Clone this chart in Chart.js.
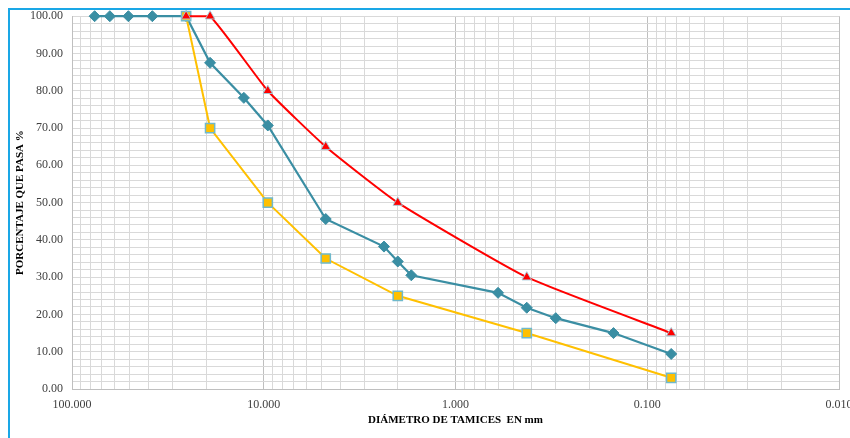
<!DOCTYPE html>
<html>
<head>
<meta charset="utf-8">
<script src="https://cdn.jsdelivr.net/npm/chart.js@4"></script>
<style>
html,body{margin:0;padding:0;background:#fff;}
#wrap{position:relative;width:850px;height:438px;}
</style>
</head>
<body>
<div id="wrap"><canvas id="c" width="850" height="438"></canvas></div>
<script>
// Sieve diameters (mm) and percent passing
const sampleDiam = [76.2, 63.5, 50.8, 38.1, 25.4, 19.05, 12.7, 9.525, 4.75, 2.36, 2.0, 1.7, 0.6, 0.425, 0.3, 0.15, 0.075];
const samplePass = [100, 100, 100, 100, 100, 87.5, 78.1, 70.7, 45.6, 38.2, 34.2, 30.5, 25.8, 21.8, 19.0, 15.0, 9.4];
const limitDiam = [25.4, 19.05, 9.525, 4.75, 2.0, 0.425, 0.075];
const upperPass = [100, 100, 80, 65, 50, 30, 15];
const lowerPass = [100, 70, 50, 35, 25, 15, 3];
const yLabelStep = 10;

const toPts = (xs, ys) => xs.map((x, i) => ({x: x, y: ys[i]}));

const frame = {
  id: 'frame',
  beforeDraw(chart) {
    const ctx = chart.ctx;
    ctx.save();
    ctx.fillStyle = '#fff';
    ctx.fillRect(0, 0, chart.width, chart.height);
    ctx.strokeStyle = '#1AA7E6';
    ctx.lineWidth = 2;
    ctx.beginPath();
    ctx.moveTo(9, chart.height + 5);
    ctx.lineTo(9, 9);
    ctx.lineTo(chart.width + 5, 9);
    ctx.stroke();
    ctx.restore();
  }
};

const isDecade = v => Math.abs(Math.log10(v) - Math.round(Math.log10(v))) < 1e-9;

new Chart(document.getElementById('c'), {
  type: 'scatter',
  data: {
    datasets: [
      {
        label: 'Límite superior',
        data: toPts(limitDiam, upperPass),
        showLine: true,
        clip: false,
        borderColor: '#FF0000',
        borderWidth: 2,
        tension: 0.15,
        pointStyle: 'triangle',
        pointRadius: 5.5,
        pointBackgroundColor: '#FF0000',
        pointBorderColor: 'rgba(160,205,220,0.9)',
        pointBorderWidth: 1
      },
      {
        label: 'Límite inferior',
        data: toPts(limitDiam, lowerPass),
        showLine: true,
        clip: false,
        borderColor: '#FFC000',
        borderWidth: 2,
        tension: 0,
        pointStyle: 'rect',
        pointRadius: 6.5,
        pointBackgroundColor: '#FFC000',
        pointBorderColor: '#6FB9CC',
        pointBorderWidth: 1.5
      },
      {
        label: 'Muestra',
        data: toPts(sampleDiam, samplePass),
        showLine: true,
        clip: false,
        borderColor: '#3A8EA3',
        borderWidth: 2.2,
        tension: 0,
        pointStyle: 'rectRot',
        pointRadius: 5.5,
        pointBackgroundColor: '#3A8EA3',
        pointBorderColor: '#3A8EA3',
        pointBorderWidth: 1
      }
    ]
  },
  options: {
    responsive: false,
    animation: false,
    devicePixelRatio: 1,
    layout: {padding: {left: 14, right: 11, top: 16, bottom: 11}},
    plugins: {legend: {display: false}, tooltip: {enabled: false}},
    scales: {
      x: {
        type: 'logarithmic',
        reverse: true,
        min: 0.01,
        max: 100,
        afterBuildTicks(scale) {
          const t = [];
          for (let e = -2; e <= 1; e++) {
            for (let m = 1; m <= 9; m++) t.push({value: m * Math.pow(10, e)});
          }
          t.push({value: 100});
          scale.ticks = t;
        },
        afterFit(scale) { scale.height = 38; },
        ticks: {
          autoSkip: false,
          maxRotation: 0,
          padding: 9,
          color: '#404040',
          font: {family: 'Liberation Serif', size: 12},
          callback(v) { return isDecade(v) ? Number(v).toFixed(3) : ''; }
        },
        grid: {
          drawTicks: false,
          lineWidth: 1,
          color(ctx) { return ctx.tick && isDecade(ctx.tick.value) ? '#BFBFBF' : '#D9D9D9'; }
        },
        border: {display: true, color: '#BFBFBF'},
        title: {
          display: true,
          text: 'DIÁMETRO DE TAMICES  EN mm',
          color: '#000',
          font: {family: 'Liberation Serif', size: 11, weight: 'bold'},
          padding: {top: 2, bottom: 0}
        }
      },
      y: {
        min: 0,
        max: 100,
        afterFit(scale) { scale.width = 58; },
        ticks: {
          stepSize: 2,
          autoSkip: false,
          padding: 9,
          color: '#404040',
          font: {family: 'Liberation Serif', size: 12},
          callback(v) { return v % yLabelStep === 0 ? Number(v).toFixed(2) : ''; }
        },
        grid: {drawTicks: false, color: '#D9D9D9', lineWidth: 1},
        border: {display: true, color: '#BFBFBF'},
        title: {
          display: true,
          text: 'PORCENTAJE QUE PASA %',
          color: '#000',
          font: {family: 'Liberation Serif', size: 11, weight: 'bold'},
          padding: {top: 0, bottom: 2}
        }
      }
    }
  },
  plugins: [frame]
});
</script>
</body>
</html>
